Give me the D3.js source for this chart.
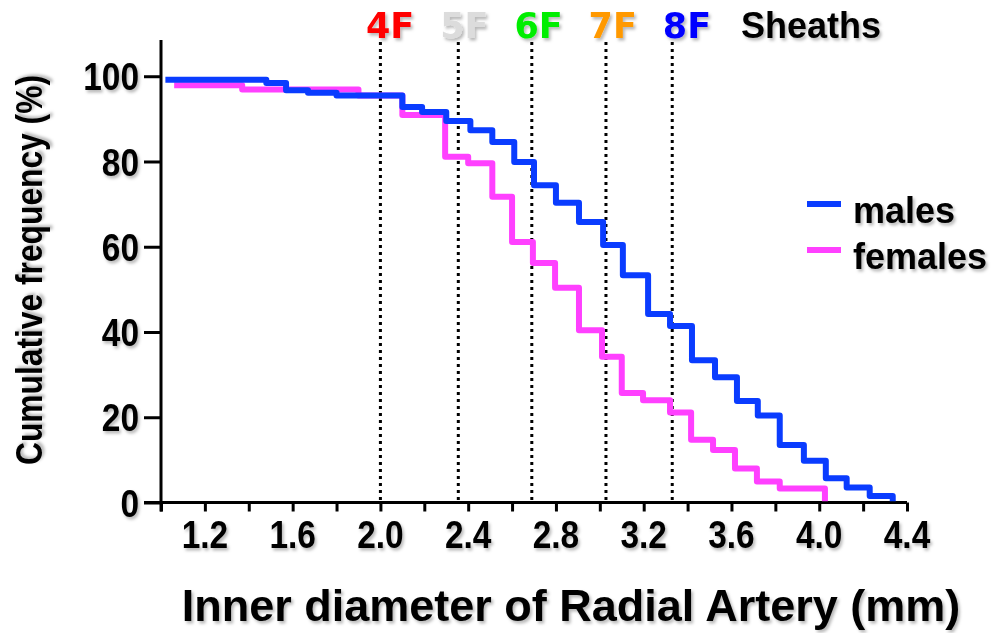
<!DOCTYPE html>
<html>
<head>
<meta charset="utf-8">
<script src="https://cdn.jsdelivr.net/npm/d3@7"></script>
<style>
  html, body { margin: 0; padding: 0; background: #fff; }
  svg { display: block; }
  text { font-family: "Liberation Sans", Arial, Helvetica, sans-serif; font-weight: bold; }
</style>
</head>
<body>
<svg id="chart" width="996" height="633"></svg>
<script>
// ---- data ----
const maleX = [1.02, 1.48, 1.57, 1.67, 1.80, 2.10, 2.19, 2.30, 2.41, 2.51, 2.61, 2.70, 2.80, 2.905, 3.015, 3.105, 3.22, 3.32, 3.42, 3.525, 3.625, 3.72, 3.82, 3.93, 4.03, 4.125, 4.23, 4.335];
const maleY = [99.2, 98.4, 96.7, 96.1, 95.5, 92.8, 91.6, 89.5, 87.3, 84.6, 79.9, 74.4, 70.3, 65.8, 60.4, 53.3, 44.2, 41.4, 33.4, 29.4, 23.8, 20.4, 13.5, 9.8, 5.7, 3.5, 1.5, 0.3];
const femaleX = [1.06, 1.37, 1.90, 2.10, 2.295, 2.40, 2.51, 2.60, 2.695, 2.796, 2.905, 3.01, 3.10, 3.197, 3.32, 3.416, 3.516, 3.616, 3.716, 3.82, 4.026];
const femaleY = [97.9, 96.9, 95.5, 90.9, 81.1, 79.6, 71.7, 61.1, 56.2, 50.4, 40.4, 34.2, 25.7, 24.0, 21.1, 14.7, 12.3, 8.0, 4.9, 3.3, 0.3];
const seriesNames = ["males", "females"];
const seriesColors = ["#0a3cff", "#ff40ff"];
const sheathLabels = ["4F", "5F", "6F", "7F", "8F"];
const sheathDiameters = [2.0, 2.355, 2.69, 3.028, 3.33];
const sheathColors = ["#ff0000", "#dcdcdc", "#00ee00", "#ff9900", "#0000ff"];
const xTickValues = [1.0, 1.2, 1.4, 1.6, 1.8, 2.0, 2.2, 2.4, 2.6, 2.8, 3.0, 3.2, 3.4, 3.6, 3.8, 4.0, 4.2, 4.4];
const xTickLabels = ["1.2", "1.6", "2.0", "2.4", "2.8", "3.2", "3.6", "4.0", "4.4"];
const yTickValues = [0, 20, 40, 60, 80, 100];
const yTickLabels = ["0", "20", "40", "60", "80", "100"];

// ---- scales ----
const svg = d3.select("#chart");
const x = d3.scaleLinear().domain([1.0, 4.4]).range([161, 907]);
const y = d3.scaleLinear().domain([0, 108.5]).range([502.5, 40]);
const squeeze = 0.88;

const defs = svg.append("defs");
const f = defs.append("filter").attr("id", "shadow").attr("x", "-10%").attr("y", "-20%").attr("width", "130%").attr("height", "150%");
f.append("feDropShadow").attr("dx", 2).attr("dy", 2.5).attr("stdDeviation", 1.6)
  .attr("flood-color", "#000").attr("flood-opacity", 0.28);

// ---- sheath dotted lines ----
svg.append("g").selectAll("line").data(sheathDiameters).join("line")
  .attr("x1", d => x(d)).attr("x2", d => x(d))
  .attr("y1", 42).attr("y2", y(0))
  .attr("stroke", "#000").attr("stroke-width", 3).attr("stroke-dasharray", "3,4");

// sheath labels, evenly spaced like one text line
const topText = svg.append("text").attr("y", 38).attr("filter", "url(#shadow)");
sheathLabels.forEach((s, i) => {
  topText.append("tspan").attr("x", 366 + i * 74.2).text(s)
    .attr("fill", sheathColors[i])
    .style("font-family", "'DejaVu Sans', sans-serif")
    .style("font-size", "35px");
});
topText.append("tspan").attr("x", 741).text("Sheaths").attr("fill", "#000").style("font-size", "36px");

// ---- axes ----
const xAxis = d3.axisBottom(x).tickValues(xTickValues).tickSize(9).tickSizeOuter(0).tickFormat("");
const gx = svg.append("g").attr("transform", `translate(0,${y(0)})`).call(xAxis);
gx.select(".domain").attr("stroke-width", 3).attr("d", `M${x(1.0) - 17},0H${x(4.4)}`);
gx.selectAll(".tick line").attr("stroke-width", 3);

const yAxis = d3.axisLeft(y).tickValues(yTickValues).tickSize(17).tickSizeOuter(0).tickFormat((d, i) => yTickLabels[i]);
const gy = svg.append("g").attr("transform", `translate(${x(1.0)},0)`).call(yAxis);
gy.select(".domain").attr("stroke-width", 3).attr("d", `M0,${y(108.5)}V${y(0) + 9}`);
gy.selectAll(".tick line").attr("stroke-width", 3);
gy.selectAll(".tick text")
  .attr("x", -22 / squeeze).attr("dy", "0.36em")
  .attr("transform", `scale(${squeeze},1)`)
  .style("font-size", "38px").attr("fill", "#000").attr("filter", "url(#shadow)");

// x tick labels
const xLabelVals = xTickLabels.map(Number);
svg.append("g").selectAll("text").data(xLabelVals).join("text")
  .attr("transform", d => `translate(${x(d)},548) scale(${squeeze},1)`)
  .attr("text-anchor", "middle")
  .style("font-size", "38px").attr("fill", "#000").attr("filter", "url(#shadow)")
  .text((d, i) => xTickLabels[i]);

// ---- step curves ----
const line = d3.line().x(d => x(d[0])).y(d => y(d[1])).curve(d3.curveStepAfter);
const femalePts = femaleX.map((v, i) => [v, femaleY[i]]);
const malePts = maleX.map((v, i) => [v, maleY[i]]);
[[femalePts, 1], [malePts, 0]].forEach(([pts, k]) => {
  svg.append("path").datum(pts).attr("d", line)
    .attr("fill", "none").attr("stroke", seriesColors[k]).attr("stroke-width", 6)
    .attr("stroke-linejoin", "round").attr("stroke-linecap", "butt");
});

// ---- legend ----
const legY = [204, 250];
seriesNames.forEach((n, i) => {
  svg.append("line").attr("x1", 807).attr("x2", 841).attr("y1", legY[i]).attr("y2", legY[i])
    .attr("stroke", seriesColors[i]).attr("stroke-width", 6);
  svg.append("text").attr("x", 853).attr("y", legY[i] + 19).text(n)
    .style("font-size", "36px").attr("fill", "#000").attr("filter", "url(#shadow)");
});

// ---- axis titles ----
svg.append("text").attr("x", 571).attr("y", 621).attr("text-anchor", "middle")
  .style("font-size", "45px").attr("fill", "#000").attr("filter", "url(#shadow)")
  .text("Inner diameter of Radial Artery (mm)");
svg.append("text").attr("transform", "translate(42,270) rotate(-90)").attr("text-anchor", "middle")
  .attr("textLength", 390).attr("lengthAdjust", "spacingAndGlyphs")
  .style("font-size", "36px").attr("fill", "#000").attr("filter", "url(#shadow)")
  .text("Cumulative frequency (%)");
</script>
</body>
</html>
